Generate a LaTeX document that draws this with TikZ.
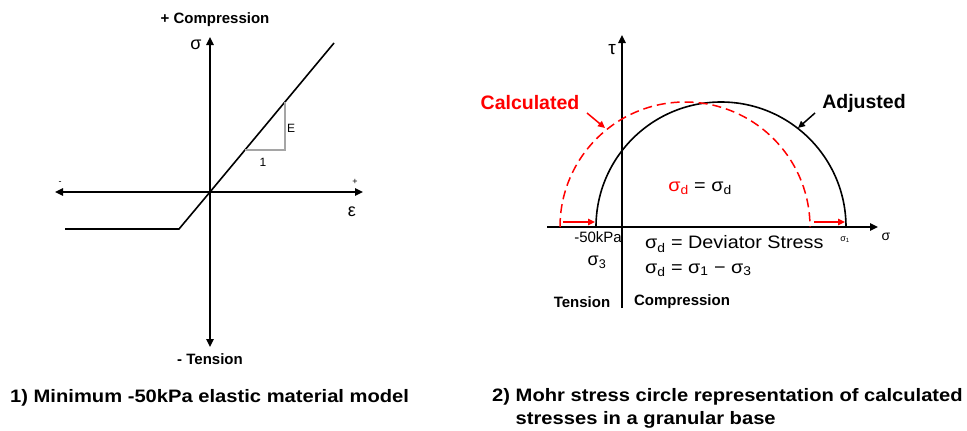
\documentclass[tikz,border=0pt]{standalone}
\usepackage{fontspec}
\setmainfont{Liberation Sans}
\newfontfamily\widefont[FakeStretch=1.1]{Liberation Sans}
\newfontfamily\capfont[FakeStretch=1.12]{Liberation Sans}
\usepackage{xcolor}
\usepackage{tikz}
\usetikzlibrary{arrows.meta}
\definecolor{calcred}{RGB}{255,0,0}
\definecolor{slopegray}{RGB}{165,165,165}
\newcommand{\fsz}[1]{\fontsize{#1}{#1}\selectfont}

\begin{document}
\begin{tikzpicture}[x=1pt,y=1pt,>={Triangle[length=8pt,width=7.5pt]},
  axis/.style={line width=1.6pt},
  curve/.style={line width=1.6pt},
  small arrow/.style={line width=1.5pt,->,>={Triangle[length=7pt,width=6.5pt]}},
  bold/.style={font=\bfseries\fsz{15}}]
  \useasboundingbox (0,0) rectangle (967,-431);
  % elastic model with tension cut-off
  \begin{scope}[shift={(210,-192)}]
    \coordinate (eL) at (-155,0); \coordinate (eR) at (153,0);
    \coordinate (sB) at (0,-155); \coordinate (sT) at (0,155);
    \draw[axis,<->] (eL)--(eR);
    \draw[axis,<->] (sB)--(sT);
    \coordinate (cut0) at (-145,-37); \coordinate (cut1) at (-31,-37);
    \coordinate (O) at (0,0); \coordinate (top) at (124,149);
    \draw[curve] (cut0)--(cut1)--(O)--(top);
    \coordinate (t1) at (75,90); \coordinate (t2) at (75,42); \coordinate (t3) at (35,42);
    \draw[slopegray,line width=1.1pt] (t1)--(t2)--(t3);
    \node[font=\fsz{12}] (E) at (81,64) {E};
    \node[font=\fsz{12}] (one) at (53,30) {1};
    \node[bold] (comp) at (5,172) {+ Compression};
    \node[bold] (tens) at (0,-167) {- Tension};
    \node[font=\fsz{18}] (sig) at (-14,147) {σ};
    \node[font=\fsz{18}] (eps) at (142,-20) {ε};
    \node[font=\fsz{9}] (minus) at (-150,9) {-};
    \node[font=\fsz{9}] (plus) at (145,10) {+};
  \end{scope}
  % Mohr circles, calculated vs adjusted
  \begin{scope}[shift={(622,-227)}]
    \coordinate (xL) at (-75,0); \coordinate (xR) at (256,0);
    \coordinate (yB) at (0,-81); \coordinate (yT) at (0,192);
    \draw[axis,->] (xL)--(xR);
    \draw[axis,->] (yB)--(yT);
    \coordinate (adjL) at (-26,0); \coordinate (calcL) at (-62,0);
    \draw[curve] (adjL) arc (180:0:125);
    \draw[calcred,line width=1.5pt,dash pattern=on 9pt off 5pt] (calcL) arc (180:0:125);
    \coordinate (a1) at (-59,5); \coordinate (a2) at (-27,5);
    \coordinate (b1) at (192,5); \coordinate (b2) at (223,5);
    \draw[calcred,small arrow] (a1)--(a2);
    \draw[calcred,small arrow] (b1)--(b2);
    \node[font=\bfseries\fsz{19.5},text=calcred] (calc) at (-92,124) {Calculated};
    \node[font=\bfseries\fsz{19.5}] (adj) at (242,124) {Adjusted};
    \coordinate (calcA) at (-35,114); \coordinate (calcB) at (-17,99);
    \coordinate (adjA) at (193,114); \coordinate (adjB) at (176,99);
    \draw[calcred,small arrow] (calcA)--(calcB);
    \draw[small arrow] (adjA)--(adjB);
    \node[font=\fsz{19}] (tau) at (-10,177) {τ};
    \node[font=\fsz{14}] (sigx) at (264,-10) {σ};
    \node[font=\widefont\fsz{18}] (sdsd) at (78,39) {{\color{calcred}σ\textsubscript{d}} = σ\textsubscript{d}};
    \node[font=\fsz{15},anchor=east,inner sep=0pt] (kpa) at (0,-10) {-50kPa};
    \node[font=\fsz{18}] (s3) at (-25,-35) {σ\textsubscript{3}};
    \node[font=\fsz{9}] (s1) at (223,-13) {σ\textsubscript{1}};
    \node[font=\widefont\fsz{18},anchor=west,inner sep=0pt] (dev) at (23,-17) {σ\textsubscript{d} = Deviator Stress};
    \node[font=\widefont\fsz{18},anchor=west,inner sep=0pt] (diff) at (23,-43) {σ\textsubscript{d} = σ\textsubscript{1} − σ\textsubscript{3}};
    \node[bold] (tens2) at (-40,-75) {Tension};
    \node[bold] (comp2) at (60,-75) {Compression};
  \end{scope}
  % captions
  \node[font=\capfont\bfseries\fontsize{18}{23}\selectfont,anchor=west,inner sep=0pt] (cap1) at (10,-398) {1) Minimum -50kPa elastic material model};
  \node[font=\capfont\bfseries\fontsize{18}{23}\selectfont,anchor=north west,inner sep=0pt] (cap2) at (492,-385)
    {\begin{tabular}{@{}l@{ }l@{}}2)&Mohr stress circle representation of calculated\\&stresses in a granular base\end{tabular}};
\end{tikzpicture}
\end{document}
